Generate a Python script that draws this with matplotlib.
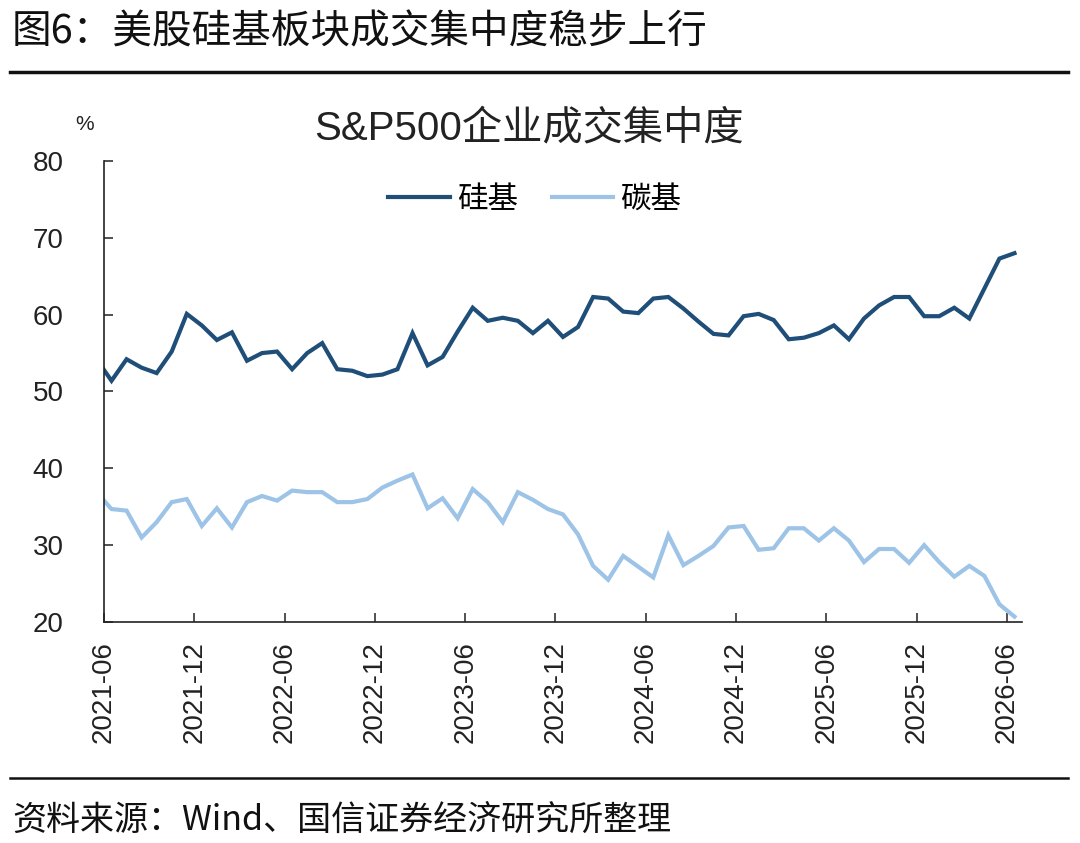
import numpy as np
import matplotlib
matplotlib.use("Agg")
import matplotlib.pyplot as plt

plt.rcParams['font.family'] = ['Liberation Sans', 'Noto Sans CJK SC', 'DejaVu Sans']

Dark  = (31/255, 78/255, 121/255)
Light = (157/255, 195/255, 230/255)

# monthly values, first one is the month before 2021-06 (sits left of the axis)
silicon = [54.2, 51.4, 54.2, 53.1, 52.4, 55.2, 60.1, 58.6, 56.7, 57.7, 54.0,
           55.0, 55.2, 52.9, 55.0, 56.3, 52.9, 52.7, 52.0, 52.2, 52.9, 57.6,
           53.4, 54.5, 57.8, 60.9, 59.2, 59.6, 59.2, 57.6, 59.2, 57.1, 58.4,
           62.3, 62.1, 60.4, 60.2, 62.1, 62.3, 60.8, 59.1, 57.5, 57.3, 59.8,
           60.1, 59.3, 56.8, 57.0, 57.6, 58.6, 56.8, 59.5, 61.2, 62.3, 62.3,
           59.8, 59.8, 60.9, 59.5, 63.4, 67.3, 68.0]
carbon = [36.9, 34.7, 34.5, 31.0, 33.0, 35.6, 36.0, 32.5, 34.8, 32.3, 35.6,
          36.4, 35.8, 37.1, 36.9, 36.9, 35.6, 35.6, 36.0, 37.5, 38.4, 39.2,
          34.8, 36.1, 33.5, 37.3, 35.6, 33.0, 36.9, 35.9, 34.7, 34.0, 31.4,
          27.3, 25.5, 28.6, 27.2, 25.8, 31.3, 27.4, 28.6, 29.9, 32.3, 32.5,
          29.4, 29.6, 32.2, 32.2, 30.6, 32.2, 30.6, 27.8, 29.5, 29.5, 27.7,
          30.0, 27.8, 25.9, 27.3, 26.0, 22.3, 20.7]
tick_labels = ['2021-06', '2021-12', '2022-06', '2022-12', '2023-06', '2023-12',
               '2024-06', '2024-12', '2025-06', '2025-12', '2026-06']
y_ticks = [20, 30, 40, 50, 60, 70, 80]

x = np.arange(len(silicon)) - 0.5

fig = plt.figure(figsize=(10.8, 8.43), dpi=100)
ax = fig.add_axes([104/1080, 1 - 622/843, (1022 - 104)/1080, (622 - 161)/843])

ax.plot(x, silicon, color=Dark, lw=3.0, label='硅基', solid_joinstyle='miter')
ax.plot(x, carbon, color=Light, lw=3.0, label='碳基', solid_joinstyle='miter')

ax.set_xlim(0, 61)
ax.set_ylim(20, 80)
ax.set_xticks(np.arange(0, 61, 6))
ax.set_xticklabels(tick_labels, rotation=90)
ax.set_yticks(y_ticks)
for s in ['top', 'right']:
    ax.spines[s].set_visible(False)
for s in ['left', 'bottom']:
    ax.spines[s].set_linewidth(1.2)
    ax.spines[s].set_color('#222222')
ax.tick_params(direction='in', length=6.5, width=1.1, labelsize=20, colors='#222222')
ax.tick_params(axis='x', pad=14)
ax.tick_params(axis='y', pad=29)

ax.legend(loc='center', bbox_to_anchor=(535/1080, 1 - 200/843), bbox_transform=fig.transFigure,
          ncol=2, frameon=False, fontsize=22, handlelength=2.0, handletextpad=0.25,
          columnspacing=1.1)

fig.text(529/1080, 1 - 128/843, 'S&P500企业成交集中度', fontsize=29, ha='center', va='center',
         color='#222222')
fig.text(85/1080, 1 - 125/843, '%', fontsize=15, ha='center', va='center', color='#222222')

cjk = ['Noto Sans CJK SC', 'DejaVu Sans']
fig.text(12/1080, 1 - 32/843, '图6：美股硅基板块成交集中度稳步上行', fontsize=28.5, ha='left',
         va='center', family=cjk, color='#111111')
fig.text(12/1080, 1 - 820/843, '资料来源：Wind、国信证券经济研究所整理', fontsize=24.5, ha='left',
         va='center', family=cjk, color='#111111')
fig.add_artist(plt.Line2D([10/1080, 1068/1080], [1 - 72/843, 1 - 72/843], color='#111111', lw=2.5))
fig.add_artist(plt.Line2D([10/1080, 1068/1080], [1 - 778/843, 1 - 778/843], color='#111111', lw=1.8))

fig.savefig('out.png', dpi=100)
